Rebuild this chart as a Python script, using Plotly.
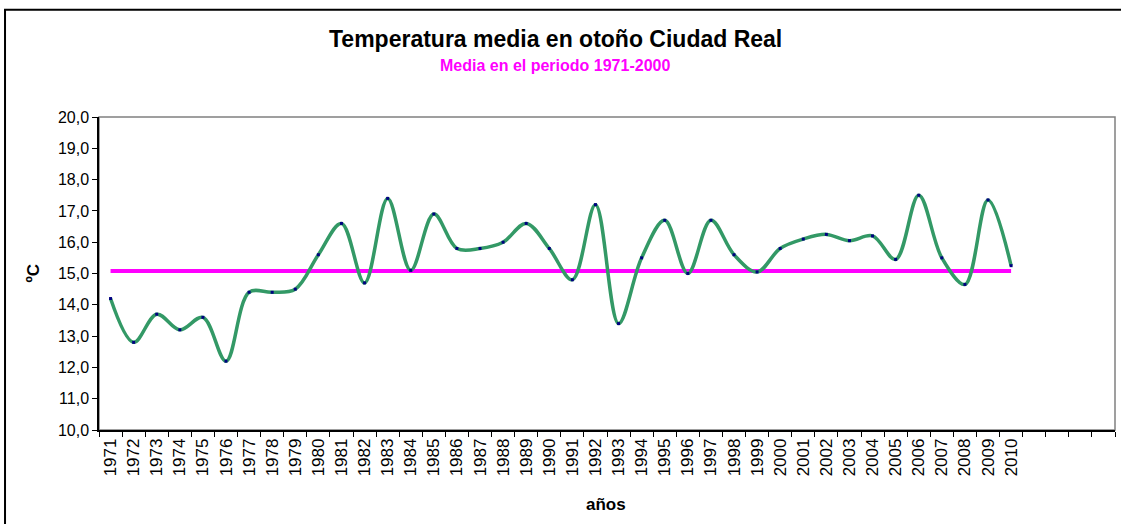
import plotly.graph_objects as go

years = [str(y) for y in range(1971, 2011)]
temps = [14.2, 12.8, 13.7, 13.2, 13.6, 12.2, 14.4, 14.4, 14.5, 15.6,
         16.6, 14.7, 17.4, 15.1, 16.9, 15.8, 15.8, 16.0, 16.6, 15.8,
         14.8, 17.2, 13.4, 15.5, 16.7, 15.0, 16.7, 15.6, 15.05, 15.8,
         16.1, 16.25, 16.05, 16.2, 15.45, 17.5, 15.5, 14.65, 17.35, 15.25]
mean_1971_2000 = 15.08
n_slots = 44  # category slots on the axis (last four empty)

x_idx = list(range(len(years)))
font_family = "Liberation Sans, Arial, sans-serif"

fig = go.Figure()
fig.add_trace(go.Scatter(
    x=x_idx, y=[mean_1971_2000] * len(years), mode="lines",
    line=dict(color="#FF00FF", width=4), hoverinfo="skip", showlegend=False))
fig.add_trace(go.Scatter(
    x=x_idx, y=temps, mode="lines+markers",
    line=dict(color="#339966", width=3.5, shape="spline", smoothing=1.0),
    marker=dict(color="#000080", size=3, symbol="square"),
    showlegend=False))

fig.update_layout(
    width=1121, height=524,
    margin=dict(l=99, r=6, t=117, b=94),
    paper_bgcolor="white", plot_bgcolor="white",
    separators=",.",
    font=dict(family=font_family, color="black", size=15),
    xaxis=dict(
        range=[-0.5, n_slots - 0.5], tickmode="array", tickvals=x_idx,
        ticktext=years, tickangle=-90, ticks="", showgrid=False, zeroline=False,
        showline=True, linecolor="black", linewidth=1.5,
        tickfont=dict(size=17, family=font_family),
        minor=dict(ticks="outside", tick0=-0.5, dtick=1, ticklen=5,
                   tickcolor="black", tickwidth=1, showgrid=False),
    ),
    yaxis=dict(
        range=[10, 20], dtick=1, tick0=10, tickformat=".1f", ticks="outside",
        ticklen=5, tickcolor="black", showgrid=False, zeroline=False,
        showline=True, linecolor="black", linewidth=1.5,
        tickfont=dict(size=16, family=font_family),
    ),
    shapes=[
        dict(type="rect", xref="paper", yref="paper", x0=0, x1=1, y0=0, y1=1,
             line=dict(color="#808080", width=1.5), layer="below"),
        dict(type="rect", xref="paper", yref="paper", x0=-0.0925, x1=1.02,
             y0=-0.35, y1=1.343, line=dict(color="black", width=2), layer="above"),
    ],
    annotations=[
        dict(text="<b>Temperatura media en otoño Ciudad Real</b>", xref="paper",
             yref="paper", x=(555 - 99) / 1016, y=(430 - 39) / 313, showarrow=False,
             font=dict(size=23, family=font_family, color="black"),
             xanchor="center", yanchor="middle"),
        dict(text="<b>Media en el periodo 1971-2000</b>", xref="paper",
             yref="paper", x=(555 - 99) / 1016, y=(430 - 65) / 313, showarrow=False,
             font=dict(size=16, family=font_family, color="#FF00FF"),
             xanchor="center", yanchor="middle"),
        dict(text="<b>ºC</b>", xref="paper", yref="paper",
             x=(33 - 99) / 1016, y=0.5, showarrow=False, textangle=-90,
             font=dict(size=17, family=font_family, color="black"),
             xanchor="center", yanchor="middle"),
        dict(text="<b>años</b>", xref="paper", yref="paper",
             x=(606 - 99) / 1016, y=(430 - 504) / 313, showarrow=False,
             font=dict(size=17, family=font_family, color="black"),
             xanchor="center", yanchor="middle"),
    ],
)

fig.write_html(
    "out.html",
    config={"displayModeBar": False},
    post_script="document.body.style.margin='0';document.body.style.overflow='hidden';",
)
